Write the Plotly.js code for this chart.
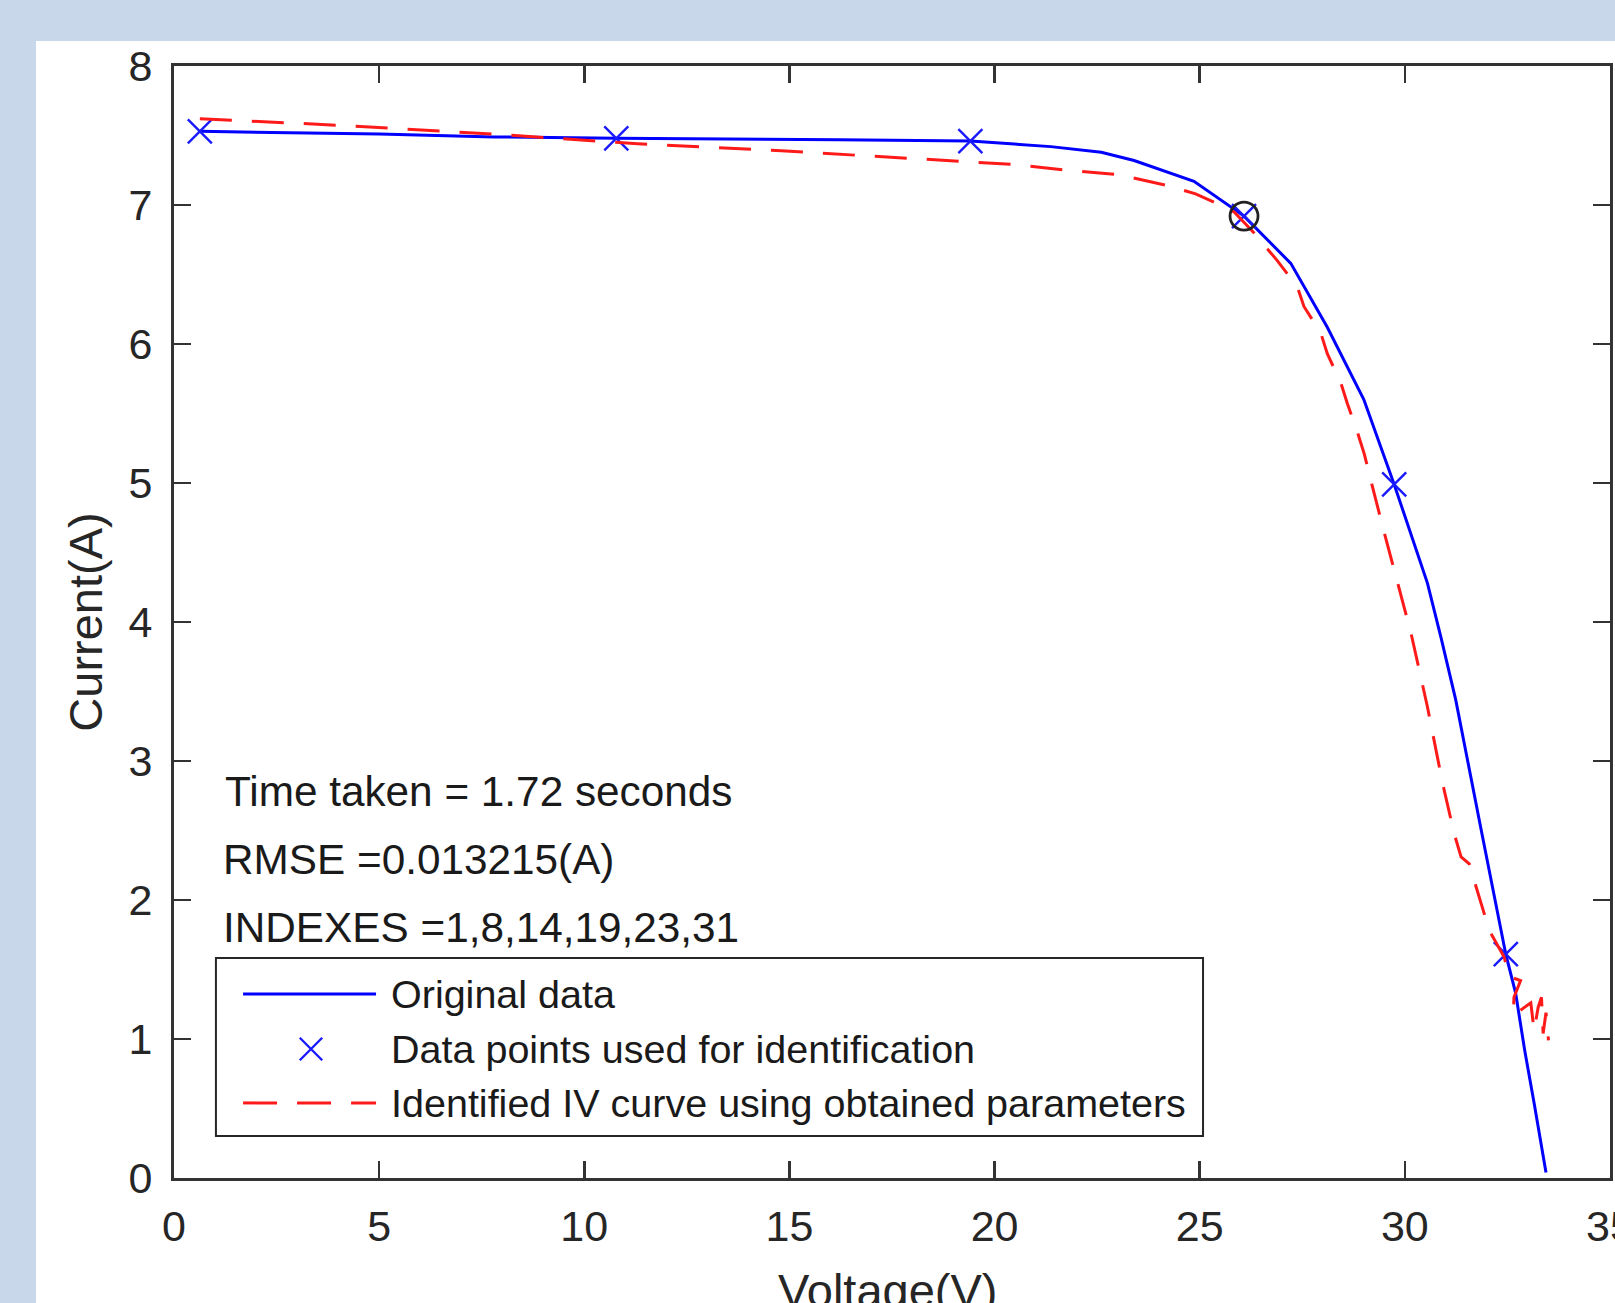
<!DOCTYPE html>
<html>
<head>
<meta charset="utf-8">
<script src="https://cdn.plot.ly/plotly-3.0.1.min.js"></script>
<style>
  html, body { margin: 0; padding: 0; width: 1615px; height: 1303px; overflow: hidden; background: #c8d8ea; }
  #chart { position: absolute; left: 36px; top: 41px; width: 1579px; height: 1262px; }
</style>
</head>
<body>
<div id="chart"></div>
<script>
// Original measured I-V data (blue solid line)
const origV = [0.63, 5.0, 7.8, 10.78, 16.2, 19.41, 21.37, 22.6, 23.4, 24.86, 26.08, 27.22, 28.11, 29.0, 29.74, 30.55, 30.88, 31.24, 31.85, 32.46, 32.7, 32.92, 33.15, 33.44];
const origI = [7.53, 7.51, 7.49, 7.48, 7.47, 7.46, 7.42, 7.38, 7.32, 7.17, 6.92, 6.58, 6.12, 5.60, 4.99, 4.28, 3.89, 3.44, 2.52, 1.61, 1.33, 0.92, 0.54, 0.04];

// Data points used for identification (blue x markers)
const idV = [0.63, 10.78, 19.41, 26.08, 29.74, 32.46];
const idI = [7.53, 7.48, 7.46, 6.92, 4.99, 1.61];

// Identified IV curve using obtained parameters (red dashed)
const fitV = [0.63, 3.6, 7.8, 11.3, 14.8, 19.0, 20.55, 21.77, 22.99, 24.21, 24.9, 25.43, 25.84, 26.32, 26.89, 27.38, 27.54, 27.95, 28.11, 28.44, 28.6, 28.85, 29.01, 29.17, 29.5, 30.15, 30.55, 30.92, 31.2, 31.37, 31.57, 31.69, 31.85, 32.06, 32.42, 32.54, 32.82, 32.66, 32.64, 33.07, 33.15, 33.25, 33.33, 33.37, 33.44, 33.5];
const fitI = [7.62, 7.58, 7.51, 7.44, 7.39, 7.32, 7.29, 7.25, 7.22, 7.14, 7.08, 7.01, 6.95, 6.80, 6.60, 6.41, 6.27, 6.08, 5.93, 5.72, 5.57, 5.36, 5.21, 5.02, 4.64, 3.92, 3.39, 2.84, 2.48, 2.31, 2.26, 2.14, 1.98, 1.78, 1.59, 1.45, 1.42, 1.30, 1.17, 1.26, 1.06, 1.23, 1.30, 1.04, 1.19, 0.99];

// Maximum power point (black circle)
const mppV = [26.08];
const mppI = [6.92];

const xTicks = [0, 5, 10, 15, 20, 25, 30, 35];
const yTicks = [0, 1, 2, 3, 4, 5, 6, 7, 8];

const xTitle = "Voltage(V)";
const yTitle = "Current(A)";

const infoLines = ["Time taken = 1.72 seconds", "RMSE =0.013215(A)", "INDEXES =1,8,14,19,23,31"];
const infoY = [2.78, 2.29, 1.80];
const infoX = [1.2, 1.15, 1.15];

const legendNames = ["Original data", "Data points used for identification", "Identified IV curve using obtained parameters"];

const FONT = "Liberation Sans, Arial, Helvetica, sans-serif";
const AX = "#333333";
const TXT = "#262626";

const traces = [
  { x: origV, y: origI, type: "scatter", mode: "lines", line: { color: "#0000ff", width: 3 }, name: legendNames[0], showlegend: false },
  { x: idV, y: idI, type: "scatter", mode: "markers", marker: { symbol: "x-thin-open", size: 24, color: "#1a1aff", line: { color: "#1a1aff", width: 2.4 } }, name: legendNames[1], showlegend: false },
  { x: fitV, y: fitI, type: "scatter", mode: "lines", line: { color: "#ff1a1a", width: 3, dash: "32px,20px" }, name: legendNames[2], showlegend: false },
  { x: mppV, y: mppI, type: "scatter", mode: "markers", marker: { symbol: "circle-open", size: 28, color: "#222222", line: { color: "#222222", width: 2.8 } }, showlegend: false }
];

// Custom legend, placed in paper coordinates
const lgX0 = 0.0292, lgX1 = 0.7166, lgY0 = 0.0378, lgY1 = 0.1978;
const rowY = [0.1655, 0.1160, 0.0675];
const sampX0 = 0.0481, sampX1 = 0.1407, textX = 0.1497, markX = 0.0954;
const mdx = 0.0078, mdy = 0.0101;

const shapes = [
  { type: "rect", xref: "paper", yref: "paper", x0: lgX0, x1: lgX1, y0: lgY0, y1: lgY1, line: { color: "#262626", width: 2 }, fillcolor: "#ffffff", layer: "above" },
  { type: "line", xref: "paper", yref: "paper", x0: sampX0, x1: sampX1, y0: rowY[0], y1: rowY[0], line: { color: "#0000ff", width: 3 } },
  { type: "path", xref: "paper", yref: "paper",
    path: `M${markX - mdx},${rowY[1] - mdy}L${markX + mdx},${rowY[1] + mdy}M${markX - mdx},${rowY[1] + mdy}L${markX + mdx},${rowY[1] - mdy}`,
    line: { color: "#1a1aff", width: 2.4 } },
  { type: "line", xref: "paper", yref: "paper", x0: sampX0, x1: sampX1, y0: rowY[2], y1: rowY[2], line: { color: "#ff1a1a", width: 3, dash: "34px,20px" } }
];

const annotations = [];
infoLines.forEach((t, i) => annotations.push({
  text: t, x: infoX[i], y: infoY[i], xref: "x", yref: "y", xanchor: "left", yanchor: "middle",
  showarrow: false, font: { family: FONT, size: 42.3, color: "#1a1a1a" }
}));
legendNames.forEach((t, i) => annotations.push({
  text: t, x: textX, y: rowY[i], xref: "paper", yref: "paper", xanchor: "left", yanchor: "middle",
  showarrow: false, font: { family: FONT, size: 39.5, color: "#1a1a1a" }
}));
// x-axis title placed below the tick labels (partly cut off by the picture edge, as in the reference)
annotations.push({
  text: xTitle, x: 0.497, y: 0, xref: "paper", yref: "paper", xanchor: "center", yanchor: "middle",
  yshift: -112, showarrow: false, font: { family: FONT, size: 47, color: TXT }
});

const layout = {
  width: 1579, height: 1262,
  margin: { l: 138, r: 5, t: 25, b: 125, pad: 0 },
  paper_bgcolor: "#ffffff", plot_bgcolor: "#ffffff",
  showlegend: false,
  font: { family: FONT, color: TXT },
  xaxis: {
    range: [0, 35], tickvals: xTicks, ticktext: xTicks.map(String),
    ticks: "inside", ticklen: 17, tickwidth: 2.5, tickcolor: AX,
    showline: true, linecolor: AX, linewidth: 3, mirror: "ticks",
    showgrid: false, zeroline: false, ticklabelstandoff: 8, ticklabeloverflow: "allow",
    tickfont: { family: FONT, size: 43, color: TXT },
    automargin: false, fixedrange: true
  },
  yaxis: {
    range: [0, 8], tickvals: yTicks, ticktext: yTicks.map(String),
    ticks: "inside", ticklen: 17, tickwidth: 2.5, tickcolor: AX,
    showline: true, linecolor: AX, linewidth: 3, mirror: "ticks",
    showgrid: false, zeroline: false, ticklabelstandoff: 10, ticklabeloverflow: "allow",
    tickfont: { family: FONT, size: 43, color: TXT },
    title: { text: yTitle, font: { family: FONT, size: 47, color: TXT }, standoff: 12 },
    automargin: false, fixedrange: true
  },
  shapes: shapes,
  annotations: annotations
};

Plotly.newPlot("chart", traces, layout, { staticPlot: true, displayModeBar: false });
</script>
</body>
</html>
